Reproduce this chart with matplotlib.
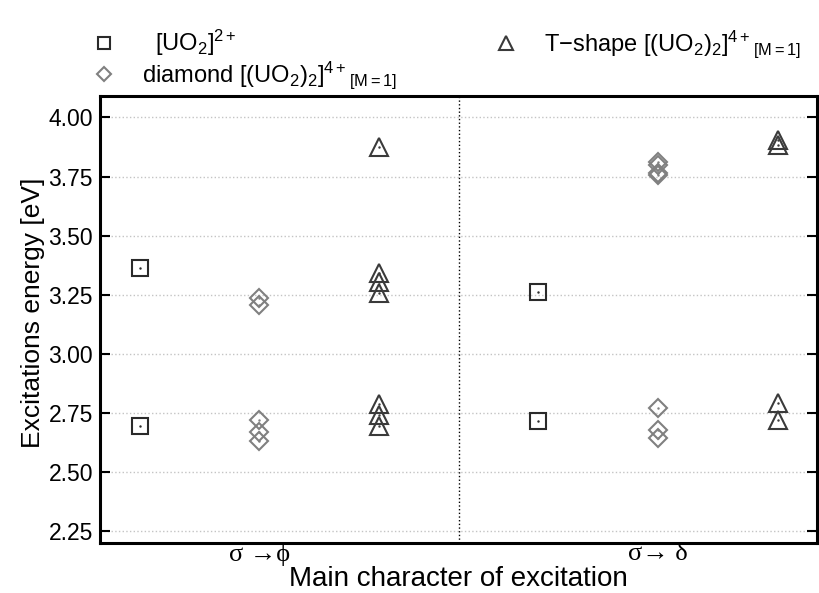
import matplotlib
matplotlib.use('Agg')
import matplotlib.pyplot as plt

plt.rcParams['font.family'] = ['Liberation Sans', 'DejaVu Sans']
plt.rcParams['mathtext.fontset'] = 'custom'
plt.rcParams['mathtext.rm'] = 'Liberation Sans'
plt.rcParams['mathtext.it'] = 'Liberation Sans:italic'

# excitation energies [eV]
groups = ['σ →ϕ', 'σ→ δ']
group_x = [1, 2]

uo2_phi = [3.365, 2.694]
uo2_delta = [3.263, 2.715]
diamond_phi = [3.238, 3.207, 2.721, 2.668, 2.633]
diamond_delta = [3.81, 3.80, 3.765, 3.755, 2.77, 2.679, 2.644]
tshape_phi = [3.875, 3.344, 3.302, 3.257, 2.789, 2.742, 2.696]
tshape_delta = [3.906, 3.885, 2.791, 2.720]

labels = [r'  $\mathrm{[UO_2]^{2+}}$',
          r'diamond $\mathrm{[(UO_2)_2]^{4+}{}_{[M=1]}}$',
          r'T−shape $\mathrm{[(UO_2)_2]^{4+}{}_{[M=1]}}$']

fig = plt.figure(figsize=(8.19, 5.93), dpi=100)
ax = fig.add_axes([0.122, 0.084, 0.876, 0.754])

series = [(uo2_phi, uo2_delta, 's', '#2a2a2a', -0.3, 11),
          (diamond_phi, diamond_delta, 'D', '#808080', 0.0, 9),
          (tshape_phi, tshape_delta, '^', '#3a3a3a', 0.3, 12.5)]

handles = []
for (phi, delta, mk, col, off, ms), lab in zip(series, labels):
    xs = [group_x[0] + off] * len(phi) + [group_x[1] + off] * len(delta)
    ys = phi + delta
    h, = ax.plot(xs, ys, linestyle='none', marker=mk, markersize=ms,
                 markerfacecolor='none', markeredgecolor=col,
                 markeredgewidth=1.5, label=lab)
    ax.plot(xs, ys, linestyle='none', marker='.', markersize=1.5, color=col)
    handles.append(h)

ax.axvline(1.5, color='black', linestyle=':', linewidth=1)
ax.set_xlim(0.6, 2.4)
ax.set_ylim(2.2, 4.09)
ax.set_yticks([2.25, 2.5, 2.75, 3.0, 3.25, 3.5, 3.75, 4.0])
ax.set_yticklabels(['2.25', '2.50', '2.75', '3.00', '3.25', '3.50', '3.75', '4.00'])
ax.set_xticks(group_x)
ax.set_xticklabels(groups, family=['Liberation Serif', 'DejaVu Serif'], fontsize=19)
ax.tick_params(axis='y', direction='in', left=True, right=True, length=7,
               width=1.5, labelsize=16.5, pad=5)
ax.tick_params(axis='x', length=0, pad=0)
ax.yaxis.grid(True, linestyle=':', color='#c4c4c4', linewidth=1)
for s in ax.spines.values():
    s.set_linewidth(2.2)

ax.set_ylabel('Excitations energy [eV]', fontsize=19)
ax.yaxis.set_label_coords(-0.077, 0.515)
ax.set_xlabel('Main character of excitation', fontsize=20, labelpad=0)

ax.legend(handles=handles, loc='lower left', bbox_to_anchor=(-0.03, 0.98),
          ncol=2, frameon=False, fontsize=17, markerscale=0.8,
          handlelength=1.0, handletextpad=1.1, columnspacing=4.1,
          labelspacing=0.05, borderaxespad=0.2)

plt.savefig('out.png', dpi=100)
